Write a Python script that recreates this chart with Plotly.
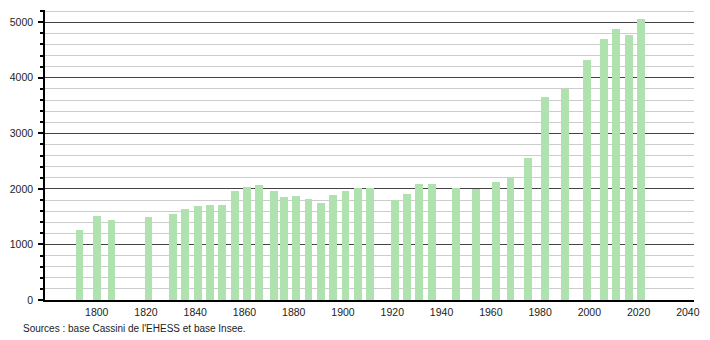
import plotly.graph_objects as go

years = [1793, 1800, 1806, 1821, 1831, 1836, 1841, 1846, 1851, 1856, 1861, 1866,
         1872, 1876, 1881, 1886, 1891, 1896, 1901, 1906, 1911, 1921, 1926, 1931,
         1936, 1946, 1954, 1962, 1968, 1975, 1982, 1990, 1999, 2006, 2011, 2016, 2021]
population = [1260, 1512, 1440, 1488, 1548, 1638, 1686, 1704, 1708, 1962, 2028, 2064,
              1962, 1854, 1872, 1818, 1746, 1890, 1962, 2010, 2010, 1800, 1908, 2094,
              2094, 2022, 1992, 2124, 2214, 2556, 3654, 3792, 4326, 4698, 4872, 4776, 5058]
x_ticks = [1800, 1820, 1840, 1860, 1880, 1900, 1920, 1940, 1960, 1980, 2000, 2020, 2040]
y_ticks = [0, 1000, 2000, 3000, 4000, 5000]
source_text = "Sources : base Cassini de l'EHESS et base Insee."

fig = go.Figure()
fig.add_trace(go.Bar(
    x=years, y=population, width=3.2,
    marker=dict(color="rgb(176,226,176)", line=dict(width=0)),
    hoverinfo="x+y",
))

fig.update_layout(
    width=710, height=340,
    margin=dict(l=44, r=10, t=10, b=40),
    plot_bgcolor="white", paper_bgcolor="white",
    font=dict(family="Liberation Sans, Arial, sans-serif", size=10.5, color="#222"),
    showlegend=False,
    bargap=0,
    xaxis=dict(
        range=[1779, 2042.5],
        tickvals=x_ticks,
        ticktext=[str(v) for v in x_ticks],
        showgrid=False, zeroline=False,
        showline=True, linecolor="black", linewidth=1.5,
        ticks="", ticklabelstandoff=2,
    ),
    yaxis=dict(
        range=[0, 5220],
        tickvals=y_ticks,
        showgrid=True, gridcolor="#444", gridwidth=1,
        zeroline=False,
        showline=True, linecolor="black", linewidth=1.5,
        ticks="outside", ticklen=5, tickcolor="black", tickwidth=1.5,
        ticklabelstandoff=3,
        minor=dict(dtick=200, showgrid=True, gridcolor="#cccccc", gridwidth=1,
                   ticks="outside", ticklen=3, tickcolor="black", tickwidth=1.5),
    ),
    annotations=[dict(
        text=source_text, xref="paper", yref="paper",
        x=-24 / 656, y=(300 - 328) / 290, xanchor="left", yanchor="middle",
        showarrow=False, font=dict(size=10, color="#222"),
    )],
)

fig.write_html("out.html")
